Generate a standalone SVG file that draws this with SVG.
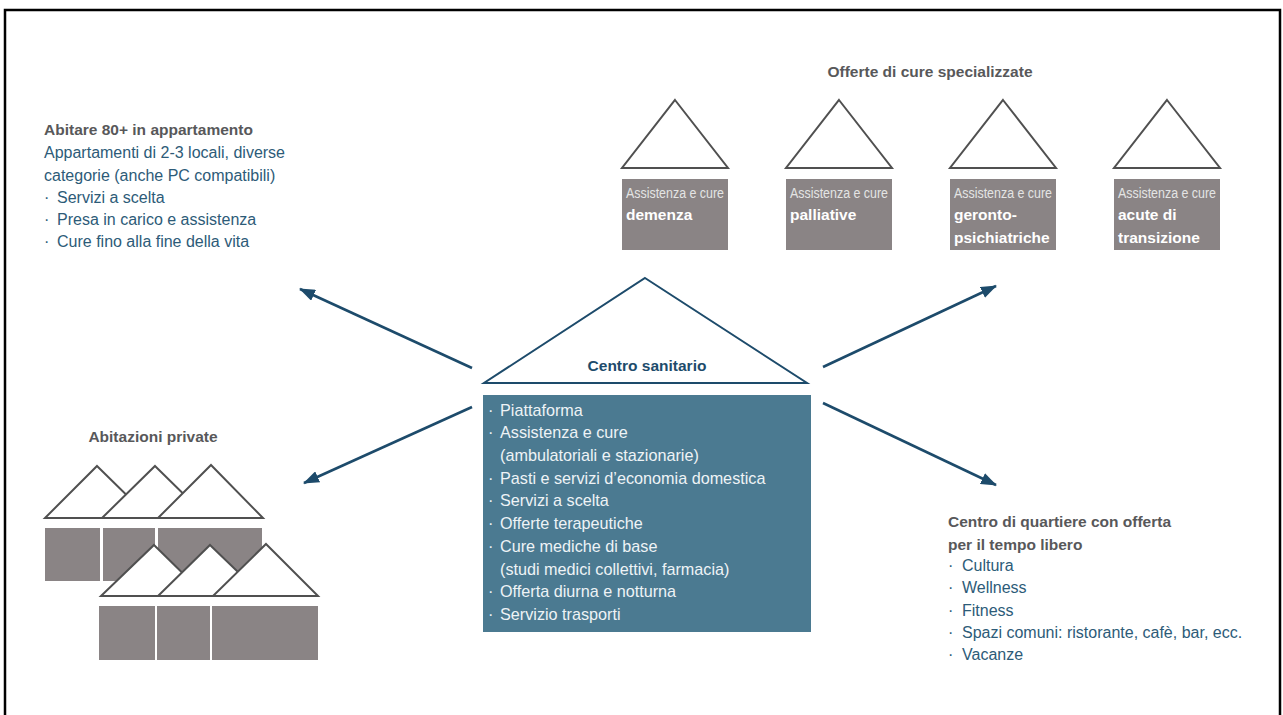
<svg xmlns="http://www.w3.org/2000/svg" width="1283" height="715" viewBox="0 0 1283 715">
  <defs>
    <marker id="arrowhead" markerUnits="userSpaceOnUse" markerWidth="16" markerHeight="12" refX="15" refY="6" orient="auto">
      <path d="M0,0 L16,6 L0,12 Z" fill="#1d4b6b"/>
    </marker>
    <style>
      text { font-family: "Liberation Sans", Arial, sans-serif; }
      .head { font-weight: bold; fill: #58585a; font-size: 15.5px; }
      .body { fill: #2d5b78; font-size: 16px; }
      .roof { fill: #ffffff; stroke: #505050; stroke-width: 2; stroke-linejoin: miter; }
      .block { fill: #8a8485; }
      .lite { fill: #e4e4e4; font-size: 15.5px; }
      .bold { fill: #ffffff; font-size: 15.5px; font-weight: bold; }
      .inbox { fill: #eef3f6; font-size: 16.2px; }
      .conn { stroke: #1d4b6b; stroke-width: 2.6; fill: none; marker-end: url(#arrowhead); }
    </style>
  </defs>

  <rect x="0" y="0" width="1283" height="715" fill="#ffffff"/>
  <!-- outer frame -->
  <rect x="5" y="10" width="1275" height="730" fill="none" stroke="#000000" stroke-width="2.5"/>

  <!-- connectors -->
  <g id="connectors">
    <line class="conn" x1="472" y1="368" x2="300" y2="289"/>
    <line class="conn" x1="472" y1="407" x2="304" y2="483"/>
    <line class="conn" x1="823" y1="367" x2="996" y2="286"/>
    <line class="conn" x1="823" y1="403" x2="996" y2="485"/>
  </g>

  <!-- central health centre -->
  <g id="centro-sanitario">
    <polygon points="645,278 807,383 484,383" fill="#ffffff" stroke="#1d4b6b" stroke-width="2"/>
    <text x="647" y="371" text-anchor="middle" font-weight="bold" font-size="15.5" fill="#1d4b6b">Centro sanitario</text>
    <rect x="483" y="395" width="328" height="237" fill="#4b7a91"/>
    <g class="inbox">
      <text x="488" y="416">·</text><text x="500" y="416">Piattaforma</text>
      <text x="488" y="438">·</text><text x="500" y="438">Assistenza e cure</text>
      <text x="500" y="461">(ambulatoriali e stazionarie)</text>
      <text x="488" y="484">·</text><text x="500" y="484">Pasti e servizi d’economia domestica</text>
      <text x="488" y="506">·</text><text x="500" y="506">Servizi a scelta</text>
      <text x="488" y="529">·</text><text x="500" y="529">Offerte terapeutiche</text>
      <text x="488" y="552">·</text><text x="500" y="552">Cure mediche di base</text>
      <text x="500" y="575">(studi medici collettivi, farmacia)</text>
      <text x="488" y="597">·</text><text x="500" y="597">Offerta diurna e notturna</text>
      <text x="488" y="620">·</text><text x="500" y="620">Servizio trasporti</text>
    </g>
  </g>

  <!-- living 80+ in apartments -->
  <g id="abitare-80">
    <text class="head" x="44" y="135" font-size="16.4">Abitare 80+ in appartamento</text>
    <g class="body">
      <text x="44" y="158">Appartamenti di 2-3 locali, diverse</text>
      <text x="44" y="181">categorie (anche PC compatibili)</text>
      <text x="44" y="203">·</text><text x="57" y="203">Servizi a scelta</text>
      <text x="44" y="225">·</text><text x="57" y="225">Presa in carico e assistenza</text>
      <text x="44" y="247">·</text><text x="57" y="247">Cure fino alla fine della vita</text>
    </g>
  </g>

  <!-- specialised care -->
  <g id="cure-specializzate">
    <text class="head" x="930" y="77" text-anchor="middle">Offerte di cure specializzate</text>
  </g>
  <g id="cura-demenza">
    <polygon class="roof" points="675,100 728,168 622,168"/>
    <rect class="block" x="622" y="179" width="106" height="71"/>
    <text class="lite" x="626" y="198" textLength="98" lengthAdjust="spacingAndGlyphs">Assistenza e cure</text>
    <text class="bold" x="626" y="220">demenza</text>
  </g>
  <g id="cura-palliative">
    <polygon class="roof" points="839,100 892,168 786,168"/>
    <rect class="block" x="786" y="179" width="106" height="71"/>
    <text class="lite" x="790" y="198" textLength="98" lengthAdjust="spacingAndGlyphs">Assistenza e cure</text>
    <text class="bold" x="790" y="220">palliative</text>
  </g>
  <g id="cura-gerontopsichiatriche">
    <polygon class="roof" points="1003,100 1056,168 950,168"/>
    <rect class="block" x="950" y="179" width="106" height="71"/>
    <text class="lite" x="954" y="198" textLength="98" lengthAdjust="spacingAndGlyphs">Assistenza e cure</text>
    <text class="bold" x="954" y="220">geronto-</text>
    <text class="bold" x="954" y="243">psichiatriche</text>
  </g>
  <g id="cura-acute">
    <polygon class="roof" points="1167,100 1220,168 1114,168"/>
    <rect class="block" x="1114" y="179" width="106" height="71"/>
    <text class="lite" x="1118" y="198" textLength="98" lengthAdjust="spacingAndGlyphs">Assistenza e cure</text>
    <text class="bold" x="1118" y="220">acute di</text>
    <text class="bold" x="1118" y="243">transizione</text>
  </g>

  <!-- private homes -->
  <g id="abitazioni-private">
    <text class="head" x="153" y="442" text-anchor="middle" font-size="14.5">Abitazioni private</text>
    <polygon class="roof" points="97,466 150,518 45,518"/>
    <polygon class="roof" points="155,466 208,518 102,518"/>
    <polygon class="roof" points="211,465 263,518 158,518"/>
    <rect class="block" x="45" y="528" width="55" height="53"/>
    <rect class="block" x="103" y="528" width="52" height="53"/>
    <rect class="block" x="158" y="528" width="104" height="53"/>
    <polygon class="roof" points="154,545 206,596 101,596"/>
    <polygon class="roof" points="210,545 263,596 158,596"/>
    <polygon class="roof" points="266,544 318,596 213,596"/>
    <rect class="block" x="99" y="606" width="56" height="54"/>
    <rect class="block" x="157" y="606" width="53" height="54"/>
    <rect class="block" x="212" y="606" width="106" height="54"/>
  </g>

  <!-- neighbourhood centre -->
  <g id="centro-quartiere">
    <text class="head" x="948" y="527">Centro di quartiere con offerta</text>
    <text class="head" x="948" y="550">per il tempo libero</text>
    <g class="body" font-size="15.5">
      <text x="948" y="571">·</text><text x="962" y="571">Cultura</text>
      <text x="948" y="593">·</text><text x="962" y="593">Wellness</text>
      <text x="948" y="616">·</text><text x="962" y="616">Fitness</text>
      <text x="948" y="638">·</text><text x="962" y="638">Spazi comuni: ristorante, cafè, bar, ecc.</text>
      <text x="948" y="660">·</text><text x="962" y="660">Vacanze</text>
    </g>
  </g>
</svg>
